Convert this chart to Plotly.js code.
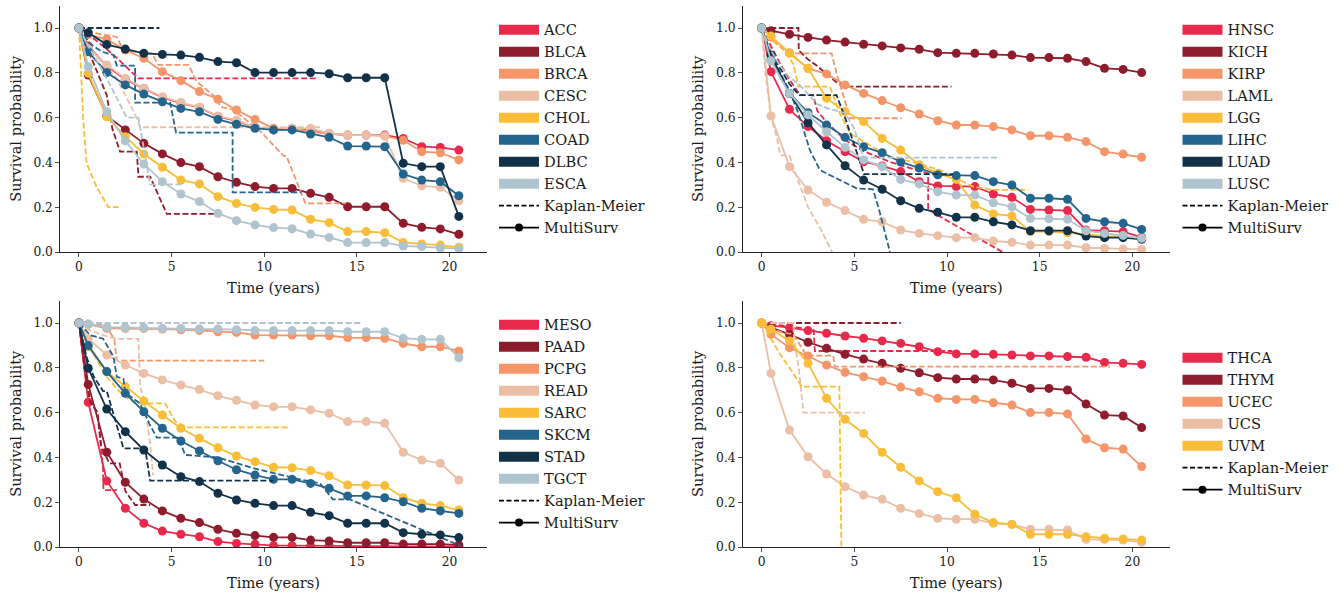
<!DOCTYPE html>
<html>
<head>
<meta charset="utf-8">
<script src="https://cdn.plot.ly/plotly-3.0.1.min.js"></script>
<style>html,body{margin:0;padding:0;background:#fff;}#chart{width:1341px;height:592px;}</style>
</head>
<body>
<div id="chart"></div>
<script>
// ---------- DATA ----------
const TIMES = [0, 0.5, 1.5, 2.5, 3.5, 4.5, 5.5, 6.5, 7.5, 8.5, 9.5, 10.5, 11.5, 12.5, 13.5, 14.5, 15.5, 16.5, 17.5, 18.5, 19.5, 20.5];

// Panel 1
const P1_CANCERS = ['ACC', 'BLCA', 'BRCA', 'CESC', 'CHOL', 'COAD', 'DLBC', 'ESCA'];
const ACC_MS  = [1.0, 0.92, 0.83, 0.77, 0.73, 0.69, 0.665, 0.645, 0.605, 0.585, 0.557, 0.545, 0.55, 0.548, 0.528, 0.522, 0.522, 0.522, 0.507, 0.47, 0.467, 0.455];
const BLCA_MS = [1.0, 0.79, 0.607, 0.545, 0.485, 0.438, 0.399, 0.381, 0.336, 0.311, 0.292, 0.284, 0.284, 0.262, 0.244, 0.202, 0.202, 0.202, 0.128, 0.110, 0.103, 0.079];
const BRCA_MS = [1.0, 0.97, 0.949, 0.902, 0.865, 0.805, 0.765, 0.716, 0.682, 0.634, 0.592, 0.552, 0.552, 0.537, 0.527, 0.522, 0.522, 0.518, 0.499, 0.448, 0.443, 0.411];
const CESC_MS = [1.0, 0.91, 0.835, 0.775, 0.731, 0.693, 0.667, 0.646, 0.607, 0.589, 0.557, 0.545, 0.552, 0.552, 0.530, 0.522, 0.522, 0.518, 0.329, 0.295, 0.289, 0.229];
const CHOL_MS = [1.0, 0.798, 0.604, 0.515, 0.4375, 0.378, 0.321, 0.304, 0.247, 0.217, 0.199, 0.19, 0.1875, 0.146, 0.131, 0.091, 0.091, 0.086, 0.042, 0.036, 0.031, 0.021];
const COAD_MS = [1.0, 0.894, 0.801, 0.746, 0.705, 0.671, 0.641, 0.626, 0.592, 0.570, 0.552, 0.545, 0.545, 0.527, 0.512, 0.473, 0.473, 0.470, 0.348, 0.321, 0.314, 0.251];
const DLBC_MS = [1.0, 0.979, 0.926, 0.906, 0.887, 0.882, 0.879, 0.869, 0.850, 0.845, 0.801, 0.801, 0.801, 0.801, 0.796, 0.778, 0.778, 0.778, 0.396, 0.381, 0.381, 0.159];
const ESCA_MS = [1.0, 0.827, 0.626, 0.496, 0.393, 0.314, 0.259, 0.225, 0.173, 0.140, 0.121, 0.109, 0.104, 0.080, 0.065, 0.042, 0.042, 0.042, 0.027, 0.024, 0.018, 0.015];

const ACC_KM_T  = [0, 1.0, 2.0, 2.9, 3.2, 12.8];
const ACC_KM_S  = [1, 0.94, 0.87, 0.80, 0.775, 0.775];
const BLCA_KM_T = [0, 0.5, 1.0, 1.5, 1.8, 2.22, 3.12, 3.21, 3.84, 4.74, 7.44];
const BLCA_KM_S = [1, 0.9, 0.8, 0.7, 0.55, 0.448, 0.448, 0.336, 0.336, 0.170, 0.170];
const BRCA_KM_T = [0, 1.0, 2.04, 2.4, 3.93, 4.29, 5.91, 6.36, 7.44, 7.62, 8.34, 9.78, 11.04, 11.19, 12.22, 14.4];
const BRCA_KM_S = [1, 0.975, 0.96, 0.90, 0.887, 0.835, 0.835, 0.76, 0.686, 0.649, 0.634, 0.54, 0.429, 0.429, 0.217, 0.217];
const CESC_KM_T = [0, 0.5, 1.5, 2.0, 3.0, 3.3, 13.0];
const CESC_KM_S = [1, 0.92, 0.82, 0.78, 0.62, 0.557, 0.557];
const CHOL_KM_T = [0, 0.14, 0.23, 0.41, 0.95, 1.59, 2.13];
const CHOL_KM_S = [1, 0.74, 0.59, 0.396, 0.29, 0.2, 0.2];
const COAD_KM_T = [0, 0.6, 1.23, 1.86, 2.04, 3.03, 3.03, 4.92, 5.24, 8.29, 8.29, 12.0];
const COAD_KM_S = [1, 0.93, 0.894, 0.88, 0.832, 0.832, 0.667, 0.667, 0.533, 0.533, 0.266, 0.266];
const DLBC_KM_T = [0, 4.34];
const DLBC_KM_S = [1, 1];
const ESCA_KM_T = [0, 0.5, 0.95, 1.59, 2.58, 3.21, 3.84, 5.55];
const ESCA_KM_S = [1, 0.92, 0.857, 0.76, 0.6, 0.6, 0.302, 0.302];

// Panel 2
const P2_CANCERS = ['HNSC', 'KICH', 'KIRP', 'LAML', 'LGG', 'LIHC', 'LUAD', 'LUSC'];
const HNSC_MS = [1.0, 0.805, 0.637, 0.56, 0.497, 0.448, 0.403, 0.384, 0.359, 0.314, 0.295, 0.292, 0.292, 0.259, 0.244, 0.19, 0.1875, 0.185, 0.098, 0.095, 0.091, 0.065];
const KICH_MS = [1.0, 0.988, 0.972, 0.958, 0.946, 0.937, 0.927, 0.920, 0.911, 0.905, 0.890, 0.887, 0.887, 0.884, 0.879, 0.868, 0.868, 0.865, 0.850, 0.820, 0.815, 0.801];
const KIRP_MS = [1.0, 0.96, 0.89, 0.82, 0.795, 0.746, 0.708, 0.676, 0.644, 0.616, 0.586, 0.567, 0.567, 0.560, 0.545, 0.519, 0.519, 0.512, 0.493, 0.448, 0.437, 0.423];
const LAML_MS = [1.0, 0.607, 0.381, 0.277, 0.222, 0.185, 0.146, 0.135, 0.098, 0.083, 0.073, 0.064, 0.064, 0.049, 0.043, 0.031, 0.031, 0.031, 0.019, 0.016, 0.013, 0.012];
const LGG_MS  = [1.0, 0.964, 0.887, 0.82, 0.686, 0.627, 0.582, 0.507, 0.455, 0.39, 0.351, 0.324, 0.21, 0.170, 0.161, 0.091, 0.091, 0.086, 0.080, 0.071, 0.068, 0.061];
const LIHC_MS = [1.0, 0.857, 0.708, 0.622, 0.567, 0.512, 0.470, 0.443, 0.402, 0.375, 0.344, 0.341, 0.341, 0.314, 0.299, 0.240, 0.240, 0.235, 0.150, 0.135, 0.128, 0.101];
const LUAD_MS = [1.0, 0.88, 0.708, 0.577, 0.478, 0.385, 0.321, 0.280, 0.229, 0.195, 0.177, 0.155, 0.155, 0.135, 0.121, 0.095, 0.095, 0.095, 0.071, 0.064, 0.064, 0.057];
const LUSC_MS = [1.0, 0.854, 0.708, 0.612, 0.537, 0.467, 0.411, 0.381, 0.324, 0.304, 0.269, 0.254, 0.254, 0.220, 0.202, 0.150, 0.148, 0.146, 0.095, 0.083, 0.074, 0.061];

const HNSC_KM_T = [0, 0.5, 1.0, 1.5, 2.07, 2.78, 3.0, 3.5, 4.5, 5.5, 7.0, 8.98, 8.98, 10.0, 13.0];
const HNSC_KM_S = [1, 0.92, 0.84, 0.77, 0.70, 0.70, 0.63, 0.58, 0.5, 0.45, 0.40, 0.351, 0.19, 0.14, 0.0];
const KICH_KM_T = [0, 1.98, 2.0, 2.5, 3.0, 4.0, 4.5, 10.24];
const KICH_KM_S = [1, 1, 0.9, 0.86, 0.83, 0.76, 0.738, 0.738];
const KIRP_KM_T = [0, 0.5, 1.0, 1.5, 3.77, 4.1, 4.4, 4.76, 7.55];
const KIRP_KM_S = [1, 0.95, 0.92, 0.887, 0.887, 0.78, 0.70, 0.597, 0.597];
const LAML_KM_T = [0, 0.2, 0.5, 0.81, 1.0, 1.5, 1.7, 2.5, 3.2, 3.8];
const LAML_KM_S = [1, 0.8, 0.6, 0.515, 0.433, 0.43, 0.38, 0.2, 0.1, 0.0];
const LGG_KM_T  = [0, 0.5, 1.2, 1.71, 1.98, 3.68, 4.22, 4.76, 5.66, 6.92, 8.54, 9.61, 10.5, 11.4, 12.5, 14.4];
const LGG_KM_S  = [1, 0.95, 0.9, 0.84, 0.738, 0.738, 0.619, 0.530, 0.485, 0.426, 0.393, 0.366, 0.329, 0.292, 0.277, 0.277];
const LIHC_KM_T = [0, 0.5, 1.0, 1.5, 1.98, 2.6, 3.14, 3.86, 5.12, 6.0, 6.3, 6.92];
const LIHC_KM_S = [1, 0.9, 0.8, 0.72, 0.619, 0.455, 0.366, 0.336, 0.284, 0.28, 0.2, 0.0];
const LUAD_KM_T = [0, 0.5, 1.0, 1.5, 2.03, 4.04, 4.5, 5.0, 5.52, 10.33];
const LUAD_KM_S = [1, 0.9, 0.82, 0.75, 0.70, 0.70, 0.6, 0.48, 0.348, 0.348];
const LUSC_KM_T = [0, 0.5, 1.0, 1.5, 2.0, 3.0, 3.6, 4.5, 5.0, 5.5, 12.85];
const LUSC_KM_S = [1, 0.9, 0.83, 0.78, 0.75, 0.66, 0.64, 0.62, 0.55, 0.421, 0.421];

// Panel 3
const P3_CANCERS = ['MESO', 'PAAD', 'PCPG', 'READ', 'SARC', 'SKCM', 'STAD', 'TGCT'];
const MESO_MS = [1.0, 0.646, 0.295, 0.173, 0.106, 0.071, 0.057, 0.046, 0.024, 0.016, 0.012, 0.006, 0.006, 0.005, 0.005, 0.004, 0.004, 0.004, 0.003, 0.003, 0.003, 0.002];
const PAAD_MS = [1.0, 0.726, 0.423, 0.289, 0.214, 0.161, 0.128, 0.109, 0.079, 0.061, 0.051, 0.043, 0.043, 0.031, 0.027, 0.019, 0.019, 0.019, 0.013, 0.013, 0.013, 0.009];
const PCPG_MS = [1.0, 0.994, 0.976, 0.976, 0.976, 0.973, 0.970, 0.967, 0.961, 0.958, 0.946, 0.946, 0.946, 0.943, 0.943, 0.935, 0.935, 0.932, 0.909, 0.894, 0.894, 0.875];
const READ_MS = [1.0, 0.93, 0.857, 0.8125, 0.775, 0.746, 0.723, 0.703, 0.675, 0.655, 0.634, 0.626, 0.626, 0.612, 0.597, 0.560, 0.560, 0.552, 0.423, 0.388, 0.374, 0.299];
const SARC_MS = [1.0, 0.894, 0.783, 0.716, 0.652, 0.589, 0.530, 0.485, 0.443, 0.406, 0.381, 0.356, 0.354, 0.341, 0.318, 0.277, 0.277, 0.274, 0.220, 0.195, 0.185, 0.165];
const SKCM_MS = [1.0, 0.899, 0.783, 0.686, 0.604, 0.530, 0.473, 0.429, 0.385, 0.345, 0.321, 0.302, 0.302, 0.284, 0.262, 0.228, 0.228, 0.220, 0.202, 0.173, 0.161, 0.150];
const STAD_MS = [1.0, 0.798, 0.616, 0.515, 0.433, 0.366, 0.314, 0.292, 0.240, 0.210, 0.195, 0.185, 0.185, 0.155, 0.140, 0.106, 0.106, 0.106, 0.064, 0.057, 0.054, 0.042];
const TGCT_MS = [1.0, 0.996, 0.981, 0.979, 0.979, 0.976, 0.976, 0.973, 0.973, 0.970, 0.966, 0.966, 0.966, 0.966, 0.966, 0.961, 0.961, 0.961, 0.932, 0.927, 0.927, 0.845];

const MESO_KM_T = [0, 0.3, 0.6, 1.0, 1.3, 1.32, 2.04];
const MESO_KM_S = [1, 0.8, 0.65, 0.6, 0.35, 0.254, 0.254];
const PAAD_KM_T = [0, 0.3, 0.6, 1.0, 1.2, 1.64, 2.2, 2.5, 3.03, 3.84];
const PAAD_KM_S = [1, 0.8, 0.65, 0.6, 0.45, 0.373, 0.373, 0.25, 0.1875, 0.1875];
const PCPG_KM_T = [0, 1.4, 1.9, 2.04, 10.0];
const PCPG_KM_S = [1, 0.99, 0.93, 0.832, 0.832];
const READ_KM_T = [0, 0.5, 1.5, 2.04, 3.21, 3.3, 3.6, 3.85, 4.0];
const READ_KM_S = [1, 0.97, 0.94, 0.929, 0.929, 0.72, 0.62, 0.45, 0.32];
const SARC_KM_T = [0, 0.5, 1.0, 1.5, 2.0, 2.5, 3.0, 3.4, 4.65, 5.2, 5.82, 11.4];
const SARC_KM_S = [1, 0.9, 0.83, 0.76, 0.71, 0.67, 0.645, 0.641, 0.641, 0.56, 0.534, 0.534];
const SKCM_KM_T = [0, 0.6, 1.3, 1.86, 2.04, 2.4, 2.5, 3.3, 3.8, 4.2, 5.37, 5.73, 7.5, 9.5, 12.0, 13.0, 13.7, 14.6, 20.6];
const SKCM_KM_S = [1, 0.946, 0.93, 0.85, 0.76, 0.75, 0.69, 0.64, 0.55, 0.488, 0.488, 0.411, 0.40, 0.35, 0.3, 0.285, 0.213, 0.213, 0.005];
const STAD_KM_T = [0, 0.4, 0.8, 1.3, 1.5, 1.9, 2.4, 3.57, 3.84, 10.5];
const STAD_KM_S = [1, 0.85, 0.76, 0.696, 0.696, 0.58, 0.44, 0.44, 0.296, 0.296];
const TGCT_KM_T = [0, 15.27];
const TGCT_KM_S = [1, 1];

// Panel 4
const P4_CANCERS = ['THCA', 'THYM', 'UCEC', 'UCS', 'UVM'];
const THCA_MS = [1.0, 0.988, 0.979, 0.966, 0.954, 0.942, 0.932, 0.920, 0.909, 0.894, 0.872, 0.862, 0.862, 0.860, 0.857, 0.853, 0.853, 0.850, 0.847, 0.824, 0.820, 0.815];
const THYM_MS = [1.0, 0.979, 0.949, 0.914, 0.887, 0.860, 0.839, 0.820, 0.798, 0.778, 0.756, 0.750, 0.750, 0.746, 0.731, 0.708, 0.708, 0.701, 0.638, 0.589, 0.585, 0.533];
const UCEC_MS = [1.0, 0.949, 0.890, 0.853, 0.8125, 0.780, 0.760, 0.741, 0.714, 0.693, 0.664, 0.659, 0.659, 0.644, 0.634, 0.6, 0.6, 0.594, 0.482, 0.443, 0.437, 0.359];
const UCS_MS  = [1.0, 0.775, 0.522, 0.403, 0.326, 0.269, 0.232, 0.213, 0.173, 0.149, 0.128, 0.124, 0.124, 0.106, 0.101, 0.079, 0.079, 0.076, 0.034, 0.034, 0.031, 0.021];
const UVM_MS  = [1.0, 0.973, 0.920, 0.820, 0.664, 0.570, 0.507, 0.423, 0.356, 0.295, 0.247, 0.220, 0.146, 0.109, 0.101, 0.057, 0.057, 0.057, 0.046, 0.039, 0.036, 0.031];

const THCA_KM_T = [0, 2.0, 2.8, 2.87, 10.3];
const THCA_KM_S = [1, 0.98, 0.97, 0.875, 0.875];
const THYM_KM_T = [0, 7.51];
const THYM_KM_S = [1, 1];
const UCEC_KM_T = [0, 1.0, 1.7, 2.1, 2.43, 3.86, 3.95, 18.78];
const UCEC_KM_S = [1, 0.96, 0.95, 0.9, 0.854, 0.854, 0.805, 0.805];
const UCS_KM_T  = [0, 1.7, 1.8, 2.0, 2.25, 5.57];
const UCS_KM_S  = [1, 1, 0.9, 0.8, 0.6, 0.6];
const UVM_KM_T  = [0, 0.5, 1.0, 1.5, 2.16, 4.19, 4.3];
const UVM_KM_S  = [1, 0.93, 0.86, 0.8, 0.716, 0.716, 0.0];

const X_TICKS = [0, 5, 10, 15, 20];
const Y_TICKS = [0.0, 0.2, 0.4, 0.6, 0.8, 1.0];
const Y_TICK_LABELS = ['0.0', '0.2', '0.4', '0.6', '0.8', '1.0'];
const LEGEND_KM = 'Kaplan-Meier';
const LEGEND_MS = 'MultiSurv';
const X_TITLE = 'Time (years)';
const Y_TITLE = 'Survival probability';

// ---------- STYLE ----------
const PALETTE = ['#E8294C', '#8E1C2D', '#F4956A', '#EBBEA6', '#F9BD38', '#24658E', '#12324A', '#AFC4CE'];
const FONT = 'DejaVu Serif, Liberation Serif, serif';
const INK = '#1a1a1a';

const MS = {
  ACC: ACC_MS, BLCA: BLCA_MS, BRCA: BRCA_MS, CESC: CESC_MS, CHOL: CHOL_MS, COAD: COAD_MS, DLBC: DLBC_MS, ESCA: ESCA_MS,
  HNSC: HNSC_MS, KICH: KICH_MS, KIRP: KIRP_MS, LAML: LAML_MS, LGG: LGG_MS, LIHC: LIHC_MS, LUAD: LUAD_MS, LUSC: LUSC_MS,
  MESO: MESO_MS, PAAD: PAAD_MS, PCPG: PCPG_MS, READ: READ_MS, SARC: SARC_MS, SKCM: SKCM_MS, STAD: STAD_MS, TGCT: TGCT_MS,
  THCA: THCA_MS, THYM: THYM_MS, UCEC: UCEC_MS, UCS: UCS_MS, UVM: UVM_MS
};
const KM = {
  ACC: [ACC_KM_T, ACC_KM_S], BLCA: [BLCA_KM_T, BLCA_KM_S], BRCA: [BRCA_KM_T, BRCA_KM_S], CESC: [CESC_KM_T, CESC_KM_S],
  CHOL: [CHOL_KM_T, CHOL_KM_S], COAD: [COAD_KM_T, COAD_KM_S], DLBC: [DLBC_KM_T, DLBC_KM_S], ESCA: [ESCA_KM_T, ESCA_KM_S],
  HNSC: [HNSC_KM_T, HNSC_KM_S], KICH: [KICH_KM_T, KICH_KM_S], KIRP: [KIRP_KM_T, KIRP_KM_S], LAML: [LAML_KM_T, LAML_KM_S],
  LGG: [LGG_KM_T, LGG_KM_S], LIHC: [LIHC_KM_T, LIHC_KM_S], LUAD: [LUAD_KM_T, LUAD_KM_S], LUSC: [LUSC_KM_T, LUSC_KM_S],
  MESO: [MESO_KM_T, MESO_KM_S], PAAD: [PAAD_KM_T, PAAD_KM_S], PCPG: [PCPG_KM_T, PCPG_KM_S], READ: [READ_KM_T, READ_KM_S],
  SARC: [SARC_KM_T, SARC_KM_S], SKCM: [SKCM_KM_T, SKCM_KM_S], STAD: [STAD_KM_T, STAD_KM_S], TGCT: [TGCT_KM_T, TGCT_KM_S],
  THCA: [THCA_KM_T, THCA_KM_S], THYM: [THYM_KM_T, THYM_KM_S], UCEC: [UCEC_KM_T, UCEC_KM_S], UCS: [UCS_KM_T, UCS_KM_S], UVM: [UVM_KM_T, UVM_KM_S]
};

const PANELS = [
  {cancers: P1_CANCERS, xa: 'x', ya: 'y', legend: 'legend'},
  {cancers: P2_CANCERS, xa: 'x2', ya: 'y2', legend: 'legend2'},
  {cancers: P3_CANCERS, xa: 'x3', ya: 'y3', legend: 'legend3'},
  {cancers: P4_CANCERS, xa: 'x4', ya: 'y4', legend: 'legend4'}
];

const DASH = '6px,2.6px';
const traces = [];
PANELS.forEach(p => {
  p.cancers.forEach((c, i) => {
    const col = PALETTE[i];
    traces.push({
      type: 'scatter', mode: 'lines', x: KM[c][0], y: KM[c][1], xaxis: p.xa, yaxis: p.ya,
      line: {color: col, width: 1.8, dash: DASH}, showlegend: false, hoverinfo: 'skip'
    });
    traces.push({
      type: 'scatter', mode: 'lines+markers', x: TIMES, y: MS[c], xaxis: p.xa, yaxis: p.ya,
      line: {color: col, width: 1.8}, marker: {color: col, size: 9}, showlegend: false, name: c
    });
  });
  // legend entries
  p.cancers.forEach((c, i) => {
    traces.push({
      type: 'scatter', mode: 'lines', x: [null], y: [null], xaxis: p.xa, yaxis: p.ya, name: c,
      line: {color: PALETTE[i], width: 13}, legend: p.legend, showlegend: true, hoverinfo: 'skip'
    });
  });
  traces.push({
    type: 'scatter', mode: 'lines', x: [null], y: [null], xaxis: p.xa, yaxis: p.ya, name: LEGEND_KM,
    line: {color: '#000', width: 1.8, dash: '5px,2.5px'}, legend: p.legend, showlegend: true, hoverinfo: 'skip'
  });
  traces.push({
    type: 'scatter', mode: 'lines+markers', x: [null], y: [null], xaxis: p.xa, yaxis: p.ya, name: LEGEND_MS,
    line: {color: '#000', width: 1.8}, marker: {color: '#000', size: 8}, legend: p.legend, showlegend: true, hoverinfo: 'skip'
  });
});

const W = 1341, H = 592;
const XL = [59.9 / W, 487.2 / W];
const XR = [742.6 / W, 1170 / W];
const YT = [(H - 252) / H, (H - 5.6) / H];
const YB = [(H - 547) / H, (H - 300.6) / H];

function xax(dom, anchor) {
  return {
    domain: dom, anchor: anchor, range: [-1.03, 22.03], tickvals: X_TICKS, ticktext: X_TICKS.map(String),
    ticks: 'outside', ticklen: 3.5, tickwidth: 0.8, tickcolor: '#222', showline: true, linecolor: '#222', linewidth: 1,
    showgrid: false, zeroline: false, tickfont: {family: FONT, size: 12.3, color: INK},
    title: {text: X_TITLE, font: {family: FONT, size: 14.6, color: INK}, standoff: 9}
  };
}
function yax(dom, anchor) {
  return {
    domain: dom, anchor: anchor, range: [0, 1.1], tickvals: Y_TICKS, ticktext: Y_TICK_LABELS,
    ticks: 'outside', ticklen: 3.5, tickwidth: 0.8, tickcolor: '#222', showline: true, linecolor: '#222', linewidth: 1,
    showgrid: false, zeroline: false, tickfont: {family: FONT, size: 12.3, color: INK},
    title: {text: Y_TITLE, font: {family: FONT, size: 14.6, color: INK}, standoff: 8}
  };
}
function leg(x, y) {
  return {
    x: x, y: y, xanchor: 'left', yanchor: 'middle', bgcolor: 'rgba(0,0,0,0)', borderwidth: 0,
    font: {family: FONT, size: 14.6, color: INK}, itemwidth: 40, tracegroupgap: 0, traceorder: 'normal'
  };
}

const layout = {
  width: W, height: H, margin: {l: 0, r: 0, t: 0, b: 0}, paper_bgcolor: '#fff', plot_bgcolor: '#fff',
  showlegend: true, font: {family: FONT, color: INK},
  xaxis: xax(XL, 'y'), yaxis: yax(YT, 'x'),
  xaxis2: xax(XR, 'y2'), yaxis2: yax(YT, 'x2'),
  xaxis3: xax(XL, 'y3'), yaxis3: yax(YB, 'x3'),
  xaxis4: xax(XR, 'y4'), yaxis4: yax(YB, 'x4'),
  legend: leg(494 / W, (YT[0] + YT[1]) / 2),
  legend2: leg(1177.5 / W, (YT[0] + YT[1]) / 2),
  legend3: leg(494 / W, (YB[0] + YB[1]) / 2),
  legend4: leg(1177.5 / W, (YB[0] + YB[1]) / 2)
};

Plotly.newPlot('chart', traces, layout, {displayModeBar: false, staticPlot: true});
</script>
</body>
</html>
